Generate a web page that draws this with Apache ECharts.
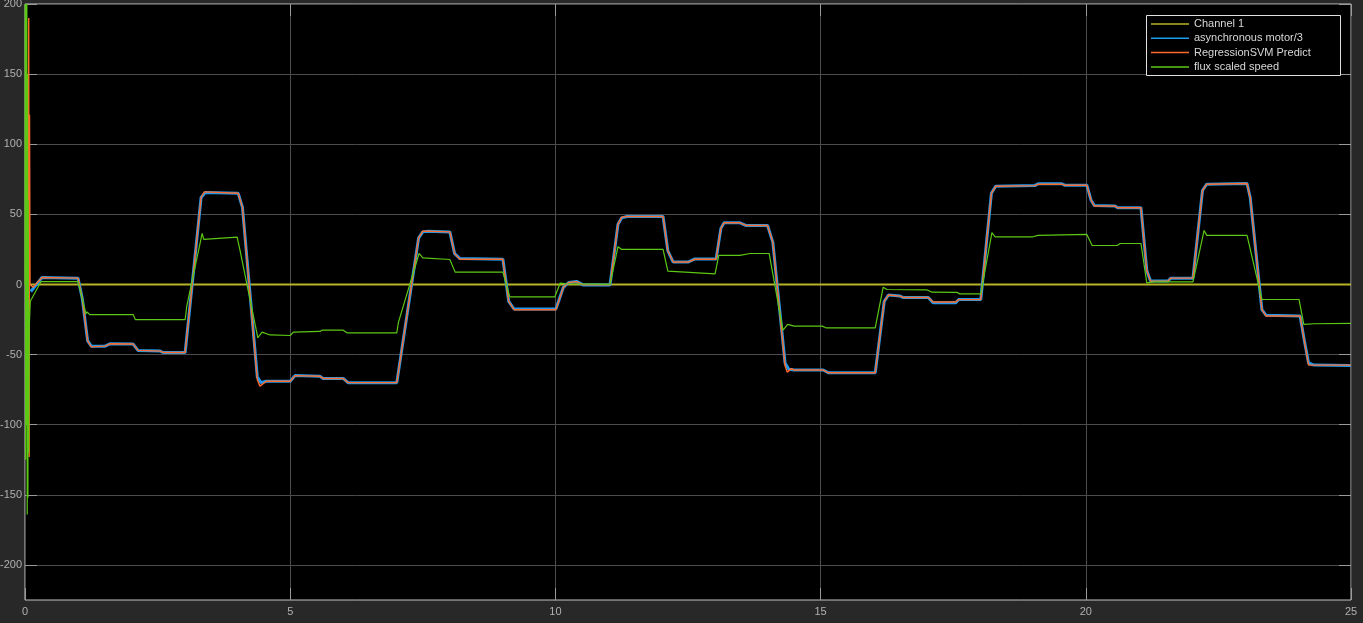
<!DOCTYPE html>
<html>
<head>
<meta charset="utf-8">
<script src="https://cdn.jsdelivr.net/npm/echarts@6/dist/echarts.min.js"></script>
<style>
  html, body { margin: 0; padding: 0; background: #282828; }
  #scope { width: 1363px; height: 623px; }
</style>
</head>
<body>
<div id="scope"></div>
<script>
// 读取自示波器截图的数据点 [时间 s, 值]
const xTicks = [0, 5, 10, 15, 20, 25];
const yTicks = [-200, -150, -100, -50, 0, 50, 100, 150, 200];

const channel1 = [[0, 0], [25, 0]];

const motorSpeed = [
  [0.11, -5], [0.32, 5], [1.0, 4.5], [1.08, -10], [1.18, -40], [1.25, -44], [1.51, -44], [1.6, -42.3],
  [2.04, -42.5], [2.13, -47], [2.55, -47.5], [2.6, -48.5], [3.02, -48.5], [3.32, 62], [3.4, 65.5],
  [4.02, 65], [4.1, 55], [4.38, -66], [4.45, -70], [4.55, -69], [5.0, -69], [5.09, -65], [5.56, -65.5],
  [5.62, -67], [6.0, -67], [6.09, -70], [7.01, -70], [7.42, 33], [7.5, 37.5], [7.6, 38], [8.01, 37.5],
  [8.1, 22], [8.2, 18.5], [9.01, 18], [9.12, -12], [9.22, -17.5], [10.01, -17.5], [10.15, -2],
  [10.25, 1.4], [10.4, 2.2], [10.52, -0.3], [11.03, -0.3], [11.18, 43], [11.25, 47.5], [11.35, 48.5],
  [12.03, 48.5], [12.12, 24], [12.22, 16], [12.5, 16], [12.63, 18.2], [13.03, 18.2], [13.12, 40],
  [13.18, 44], [13.48, 44], [13.6, 42], [14.0, 42], [14.1, 30], [14.33, -56], [14.4, -60.5],
  [14.5, -61], [15.05, -61], [15.15, -63], [16.03, -63], [16.2, -12], [16.28, -7.5], [16.5, -8.3],
  [16.56, -9.3], [17.03, -9.3], [17.12, -13], [17.55, -13], [17.6, -10.8], [18.02, -10.8],
  [18.22, 65], [18.3, 70], [19.04, 70.5], [19.1, 71.8], [19.55, 71.8], [19.6, 70.8], [20.02, 70.8],
  [20.1, 60], [20.16, 56.3], [20.55, 56], [20.6, 54.7], [21.04, 54.7], [21.15, 10], [21.22, 2.4],
  [21.55, 2.5], [21.6, 4.5], [22.02, 4.5], [22.2, 67], [22.28, 71.5], [23.04, 72], [23.1, 62],
  [23.32, -18], [23.4, -22], [24.04, -22.5], [24.12, -40], [24.2, -56], [24.3, -57.5], [25, -57.8]
];

const svmPredict = [
  [0.065, 0], [0.07, 190], [0.078, -123], [0.085, 121], [0.095, 0], [0.15, -2], [0.32, 5], [1.0, 4.5],
  [1.08, -10], [1.18, -40], [1.25, -44.5], [1.51, -44], [1.6, -42.3], [2.04, -42.5], [2.13, -47],
  [2.55, -47.5], [2.6, -48.5], [3.02, -48.5], [3.32, 62], [3.38, 66], [4.02, 65], [4.1, 55],
  [4.38, -68], [4.43, -72.5], [4.55, -69], [5.0, -69], [5.09, -65], [5.56, -65.5], [5.62, -67],
  [6.0, -67], [6.09, -70], [7.01, -70], [7.42, 33], [7.5, 38], [7.6, 38], [8.01, 37.5], [8.1, 22],
  [8.2, 18], [9.01, 18], [9.03, 12], [9.12, -12], [9.22, -18], [10.01, -18], [10.15, -2], [10.25, 1.4],
  [10.4, 2], [10.52, -0.3], [11.03, -0.3], [11.18, 43], [11.25, 48], [11.35, 48.5], [12.03, 48.5],
  [12.12, 24], [12.22, 16], [12.5, 16], [12.63, 18], [13.03, 18], [13.12, 40], [13.18, 44],
  [13.48, 44], [13.6, 42], [14.0, 42], [14.1, 30], [14.33, -58], [14.37, -62.5], [14.45, -60],
  [14.5, -61], [15.05, -61], [15.15, -63], [16.03, -63], [16.2, -12], [16.28, -7.5], [16.5, -8.3],
  [16.56, -9.3], [17.03, -9.3], [17.12, -12.5], [17.55, -12.5], [17.6, -10.8], [18.02, -10.8],
  [18.22, 65], [18.3, 70], [19.04, 70.5], [19.1, 71.5], [19.55, 71.5], [19.6, 70.8], [20.02, 70.8],
  [20.1, 60], [20.16, 56], [20.55, 56], [20.6, 54.7], [21.04, 54.7], [21.15, 10], [21.22, 2.4],
  [21.55, 2.5], [21.6, 4.5], [22.02, 4.5], [22.2, 67], [22.28, 71.5], [23.04, 72], [23.1, 62],
  [23.32, -18], [23.4, -22.5], [24.04, -22.5], [24.12, -40], [24.2, -57.5], [24.3, -57.5], [25, -57.5]
];

const fluxSpeed = [
  [0, 0], [0.005, 200], [0.012, -125], [0.02, 200], [0.028, -100], [0.035, 200], [0.042, -164],
  [0.048, 150], [0.055, -152], [0.062, 60], [0.07, -120], [0.08, -30], [0.1, -12], [0.3, 2],
  [1.0, 2], [1.15, -21], [1.17, -19.5], [1.22, -21.5], [2.04, -21.5], [2.08, -25], [3.02, -25],
  [3.05, -15.5], [3.34, 36.4], [3.37, 32.1], [4.0, 33.7], [4.05, 25], [4.39, -38], [4.47, -34],
  [4.62, -36], [5.0, -36.4], [5.06, -34], [5.56, -33.5], [5.6, -32.6], [6.0, -32.6], [6.07, -34.5],
  [7.01, -34.5], [7.04, -27], [7.43, 22.1], [7.5, 19], [8.01, 17.8], [8.11, 8.8], [9.01, 8.8],
  [9.14, -8.8], [9.99, -8.8], [10.09, 1], [10.2, 0.5], [11.03, 0], [11.18, 26.9], [11.25, 25],
  [12.03, 25], [12.12, 9.5], [13.01, 7.6], [13.08, 20.7], [13.48, 20.7], [13.67, 22.1], [14.03, 22.1],
  [14.29, -32.6], [14.38, -28.5], [14.5, -29.7], [15.03, -29.7], [15.1, -30.9], [16.03, -30.9],
  [16.18, -1.9], [16.25, -3.6], [17.0, -3.8], [17.1, -5.5], [17.57, -5.6], [17.62, -6.7], [18.02, -6.7],
  [18.23, 36.9], [18.29, 34], [19.0, 34], [19.1, 35], [20.02, 35.7], [20.12, 27.8], [20.59, 27.8],
  [20.65, 29.2], [21.04, 29.2], [21.15, 1.2], [21.3, 1.9], [22.02, 1.9], [22.23, 38.5], [22.28, 35],
  [23.04, 35], [23.32, -10.7], [24.02, -10.7], [24.11, -28.5], [24.3, -28], [25, -27.8]
];

const seriesNames = ['Channel 1', 'asynchronous motor/3', 'RegressionSVM Predict', 'flux scaled speed'];
const seriesColors = ['#b8b428', '#1e9bf0', '#ff6a2a', '#5cc814'];

let chart = echarts.init(document.getElementById('scope'));

const tickStyle = { show: true, inside: true, length: 12, lineStyle: { color: '#9a9a9a' } };

function makeLine(i, data, width) {
  return {
    name: seriesNames[i],
    type: 'line',
    data: data,
    showSymbol: false,
    symbol: 'none',
    sampling: null,
    lineStyle: { color: seriesColors[i], width: width },
    itemStyle: { color: seriesColors[i] },
    z: 2 + i
  };
}

let option = {
  animation: false,
  backgroundColor: '#282828',
  textStyle: { fontFamily: 'Liberation Sans, Arial, sans-serif' },
  grid: {
    left: 25, right: 12, top: 4, bottom: 23,
    outerBoundsMode: 'none',
    containLabel: false,
    show: true, backgroundColor: '#000', borderColor: '#c4c4c4', borderWidth: 1
  },
  xAxis: [{
    type: 'value', min: 0, max: 25, interval: 5,
    axisLine: { show: false, onZero: false },
    axisTick: tickStyle,
    axisLabel: { color: '#b0b0b0', fontSize: 11, margin: 6, showMaxLabel: true,
      formatter: v => String(v) },
    splitLine: { show: true, lineStyle: { color: '#4c4c4c', width: 1 } }
  }, {
    type: 'value', min: 0, max: 25, interval: 5, position: 'top',
    axisLine: { show: false, onZero: false }, axisTick: tickStyle,
    axisLabel: { show: false }, splitLine: { show: false }
  }],
  yAxis: [{
    type: 'value', min: -225, max: 200,
    axisLine: { show: false, onZero: false },
    axisTick: Object.assign({ customValues: yTicks }, tickStyle),
    axisLabel: { color: '#b0b0b0', fontSize: 11, margin: 3, customValues: yTicks },
    splitLine: { show: true, lineStyle: { color: '#4c4c4c', width: 1 } }
  }, {
    type: 'value', min: -225, max: 200, position: 'right',
    axisLine: { show: false, onZero: false },
    axisTick: Object.assign({ customValues: yTicks }, tickStyle),
    axisLabel: { show: false, customValues: yTicks },
    splitLine: { show: false }
  }],
  graphic: [{
    type: 'rect', z: 50,
    shape: { x: 1146.5, y: 15.5, width: 194, height: 60 },
    style: { fill: '#000', stroke: '#e0e0e0', lineWidth: 1 }
  }],
  legend: {
    z: 60,
    data: seriesNames,
    orient: 'vertical',
    left: 1147, top: 16,
    padding: [2, 4, 2, 4],
    itemWidth: 38, itemHeight: 1.5, itemGap: 2.3,
    icon: 'rect',
    textStyle: { color: '#d8d8d8', fontSize: 11, lineHeight: 12, fontFamily: 'Liberation Sans, Arial, sans-serif' }
  },
  series: [
    makeLine(0, channel1, 2),
    makeLine(1, motorSpeed, 3),
    makeLine(2, svmPredict, 1.4),
    makeLine(3, fluxSpeed, 1.2)
  ]
};

chart.setOption(option);
</script>
</body>
</html>
